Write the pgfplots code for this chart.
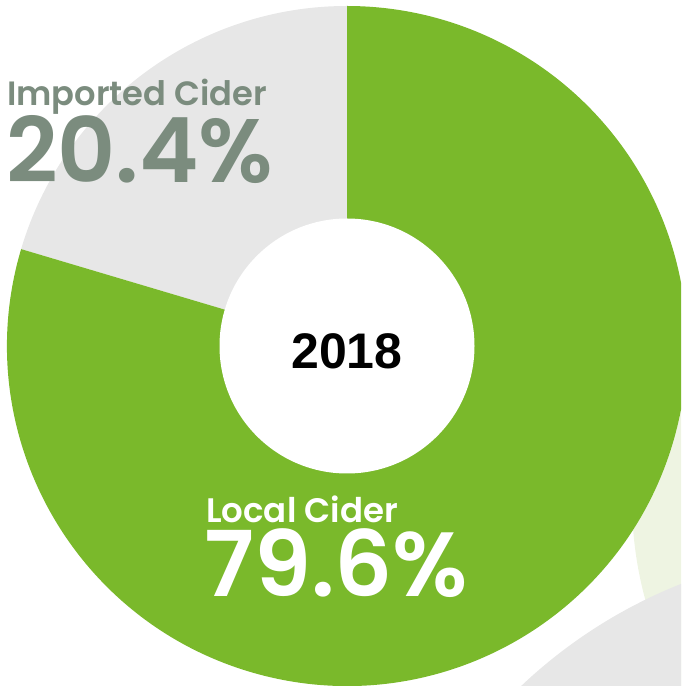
\documentclass[border=0pt]{standalone}
\usepackage{pgfplots}
\usepackage{pgfplotstable}
\pgfplotsset{compat=1.18}
\usepackage{fontspec}
\setmainfont{Poppins}[BoldFont={Poppins SemiBold}]
\newfontfamily\helv{Liberation Sans}
\definecolor{cgreen}{HTML}{7AB92B}
\definecolor{cgray}{HTML}{E7E7E7}
\definecolor{cpale}{HTML}{EEF4E2}
\definecolor{clabel}{HTML}{7B8C7E}
\pgfplotstableread{
label value
Imported 20.4
Local 79.6
}\ciderdata
\begin{document}
\begin{tikzpicture}
\pgfplotstablegetelem{0}{value}\of\ciderdata
\pgfmathsetmacro{\aEnd}{90+3.6*\pgfplotsretval}
\begin{axis}[
  x=1pt, y=1pt, scale only axis, disabledatascaling,
  xmin=0, xmax=681, ymin=0, ymax=686,
  hide axis, clip mode=global, clip bounding box=upper bound,
]
\addplot[draw=none, forget plot] coordinates {(0,0) (681,686)};
% background decorations (parts of neighbouring charts)
\fill[cpale] (axis cs:1010,186) circle[radius=378pt];
\fill[cgray] (axis cs:865,-363) circle[radius=500pt];
\fill[white] (axis cs:347,340) circle[radius=340pt];
% donut slices
\fill[cgray] (axis cs:347,340) -- ++(90:340pt) arc[start angle=90, end angle=\aEnd, radius=340pt] -- cycle;
\fill[cgreen] (axis cs:347,340) -- ++(\aEnd:340pt) arc[start angle=\aEnd, end angle=450, radius=340pt] -- cycle;
\fill[white] (axis cs:347,340) circle[radius=127.5pt];
% labels
\node[anchor=base west, inner sep=0pt, text=clabel, font=\fontsize{33.7}{34}\selectfont\bfseries] at (axis cs:7,580) {Imported Cider};
\node[anchor=base west, inner sep=0pt, text=clabel, font=\fontsize{90}{90}\selectfont\bfseries] at (axis cs:6,503) {20.4\%};
\node[anchor=base west, inner sep=0pt, text=white, font=\fontsize{34}{34}\selectfont\bfseries] at (axis cs:206,163) {Local Cider};
\node[anchor=base west, inner sep=0pt, text=white, font=\fontsize{91}{91}\selectfont\bfseries] at (axis cs:204,89) {79.6\%};
\node[anchor=center, inner sep=0pt, text=black, font=\fontsize{50}{50}\selectfont\helv\bfseries] at (axis cs:347,335) {2018};
\end{axis}
\end{tikzpicture}
\end{document}
